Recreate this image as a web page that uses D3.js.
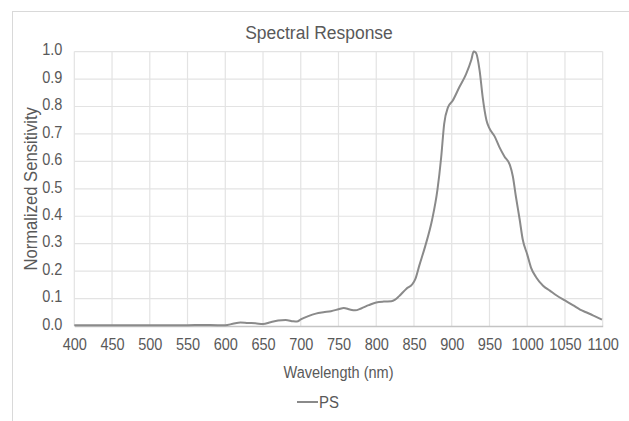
<!DOCTYPE html>
<html>
<head>
<meta charset="utf-8">
<script src="https://cdn.jsdelivr.net/npm/d3@7"></script>
<style>
  body { margin: 0; background: #fff; }
  text { font-family: "Liberation Sans", Arial, sans-serif; fill: #595959; }
</style>
</head>
<body>
<div class="canvas"></div>
<script>
// data
const wavelengths = [400, 450, 500, 550, 570, 590, 600, 610, 620, 630, 640, 650, 660, 670, 680, 690, 695,
  700, 710, 720, 730, 740, 750, 757, 765, 772, 780, 790, 800, 810, 820, 825, 830, 840, 848, 852, 857,
  865, 874, 881, 886, 890, 895, 901, 910, 919, 926, 929, 932, 937, 941, 946, 950, 957, 963, 970, 977,
  981, 985, 990, 994, 1000, 1005, 1012, 1021, 1030, 1039, 1050, 1061, 1070, 1078, 1087, 1099];
const sensitivity = [0.003, 0.003, 0.003, 0.003, 0.004, 0.003, 0.003, 0.008, 0.013, 0.011, 0.010, 0.007, 0.014, 0.020, 0.022, 0.017, 0.016,
  0.024, 0.036, 0.045, 0.050, 0.054, 0.061, 0.066, 0.060, 0.057, 0.064, 0.076, 0.086, 0.089, 0.090, 0.096, 0.108, 0.136, 0.153, 0.173, 0.220,
  0.292, 0.387, 0.495, 0.614, 0.737, 0.797, 0.820, 0.870, 0.918, 0.970, 1.000, 0.996, 0.930, 0.834, 0.750, 0.720, 0.690, 0.653, 0.617, 0.587,
  0.545, 0.472, 0.388, 0.316, 0.261, 0.213, 0.177, 0.147, 0.129, 0.111, 0.093, 0.075, 0.060, 0.050, 0.039, 0.023];
const xTicks = d3.range(400, 1101, 50);
const yTicks = d3.range(0, 11).map(i => i / 10);
const seriesName = 'PS';

const dims = { width: 629, height: 421 };
const plot = { left: 74.3, right: 602.7, top: 51.6, bottom: 326 };
const squeeze = 0.88; // the original font is a bit narrow

const svg = d3.select('.canvas')
  .append('svg')
  .attr('width', dims.width)
  .attr('height', dims.height);

// chart frame
svg.append('rect')
  .attr('x', 12.5).attr('y', 11.5)
  .attr('width', 640).attr('height', 440)
  .attr('fill', 'none')
  .attr('stroke', '#d9d9d9');

const x = d3.scaleLinear().domain([400, 1100]).range([plot.left, plot.right]);
const y = d3.scaleLinear().domain([0, 1]).range([plot.bottom, plot.top]);

// gridlines
svg.append('g')
  .selectAll('line.h')
  .data(yTicks.slice(1))
  .enter().append('line')
  .attr('x1', plot.left).attr('x2', plot.right)
  .attr('y1', d => y(d)).attr('y2', d => y(d))
  .attr('stroke', '#e3e3e3').attr('stroke-width', 1.2);

svg.append('g')
  .selectAll('line.v')
  .data(xTicks)
  .enter().append('line')
  .attr('x1', d => x(d)).attr('x2', d => x(d))
  .attr('y1', plot.top).attr('y2', plot.bottom)
  .attr('stroke', '#e3e3e3').attr('stroke-width', 1.2);

// x axis
const xAxis = svg.append('g')
  .attr('transform', `translate(0, ${plot.bottom})`)
  .call(d3.axisBottom(x).tickValues(xTicks).tickFormat(d3.format('d')).tickSize(0).tickPadding(12));
xAxis.select('.domain').attr('stroke', '#c4c4c4').attr('stroke-width', 1.6);
xAxis.selectAll('text')
  .attr('font-size', 16.5).attr('font-family', null)
  .attr('transform', `scale(${squeeze}, 1)`)
  .style('fill', '#595959');

// y axis
const yAxis = svg.append('g')
  .attr('transform', `translate(${plot.left}, 0)`)
  .call(d3.axisLeft(y).tickValues(yTicks).tickFormat(d3.format('.1f')).tickSize(0).tickPadding(12 / squeeze));
yAxis.select('.domain').remove();
yAxis.selectAll('text')
  .attr('font-size', 16.5).attr('font-family', null).attr('dy', '0.2em')
  .attr('transform', `scale(${squeeze}, 1)`)
  .style('fill', '#595959');

// line
const line = d3.line()
  .x((d, i) => x(wavelengths[i]))
  .y(d => y(d))
  .curve(d3.curveMonotoneX);

svg.append('path')
  .datum(sensitivity)
  .attr('d', line)
  .attr('fill', 'none')
  .attr('stroke', '#8a8a8a')
  .attr('stroke-width', 2);

// titles
svg.append('text')
  .attr('transform', `translate(319, 39) scale(0.92, 1)`)
  .attr('text-anchor', 'middle')
  .attr('font-size', 19)
  .text('Spectral Response');

svg.append('text')
  .attr('transform', `translate(${(plot.left + plot.right) / 2}, 378) scale(${squeeze}, 1)`)
  .attr('text-anchor', 'middle')
  .attr('font-size', 16.5)
  .text('Wavelength (nm)');

svg.append('text')
  .attr('transform', `translate(37, ${(plot.top + plot.bottom) / 2}) rotate(-90) scale(0.95, 1)`)
  .attr('text-anchor', 'middle')
  .attr('font-size', 17.5)
  .text('Normalized Sensitivity');

// legend
const legend = svg.append('g').attr('transform', 'translate(297, 402)');
legend.append('line')
  .attr('x1', 0).attr('x2', 21)
  .attr('stroke', '#8a8a8a').attr('stroke-width', 2);
legend.append('text')
  .attr('transform', `translate(22, 6) scale(${squeeze}, 1)`)
  .attr('font-size', 17)
  .text(seriesName);
</script>
</body>
</html>
